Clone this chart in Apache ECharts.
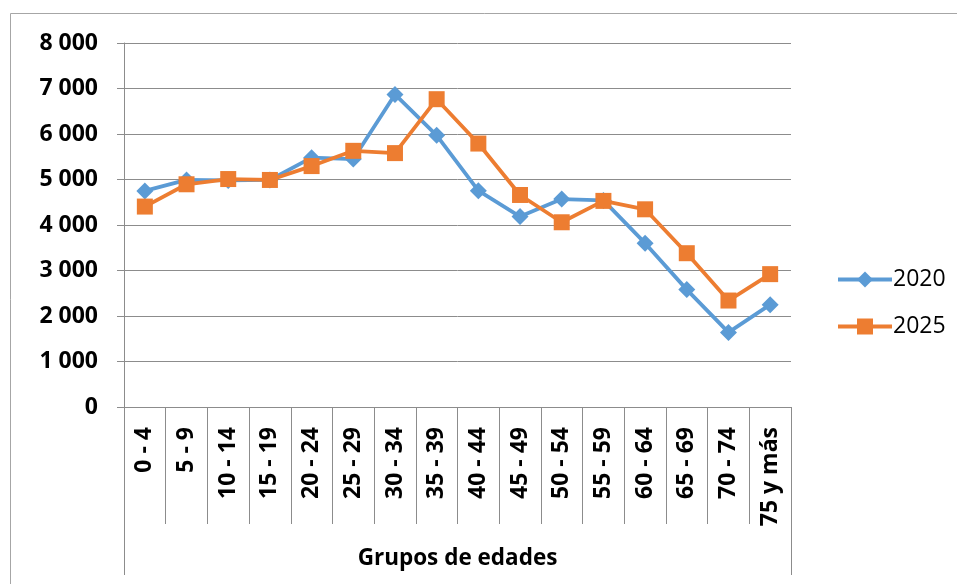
<!DOCTYPE html>
<html>
<head>
<meta charset="utf-8">
<script src="https://cdn.jsdelivr.net/npm/echarts@6/dist/echarts.min.js"></script>
<style>
  html, body { margin: 0; padding: 0; background: #fff; }
  #chart { width: 957px; height: 584px; }
</style>
</head>
<body>
<div id="chart"></div>
<script>
const grupos = ['0 - 4', '5 - 9', '10 - 14', '15 - 19', '20 - 24', '25 - 29', '30 - 34', '35 - 39',
  '40 - 44', '45 - 49', '50 - 54', '55 - 59', '60 - 64', '65 - 69', '70 - 74', '75 y más']
const datos2020 = [4750, 4990, 4980, 4990, 5480, 5450, 6870, 5970, 4755, 4185, 4570, 4540, 3600, 2580, 1640, 2250]
const datos2025 = [4405, 4895, 5010, 4990, 5295, 5630, 5580, 6765, 5790, 4660, 4060, 4530, 4345, 3380, 2340, 2920]
const tituloEje = ['Grupos de edades']

const fuente = '"Open Sans", "Noto Sans", sans-serif'
const gris = '#8c8c8c'

const chart = echarts.init(document.getElementById('chart'))
chart.setOption({
  animation: false,
  graphic: [{
    type: 'rect',
    shape: {x: 10.5, y: 13.5, width: 1000, height: 1000},
    style: {fill: 'none', stroke: '#a6a6a6', lineWidth: 1}
  }],
  grid: {left: 124, right: 166, top: 43, bottom: 177},
  legend: {
    orient: 'vertical',
    left: 831,
    top: 263,
    itemWidth: 54,
    itemHeight: 20,
    itemGap: 24,
    lineStyle: {width: 4},
    textStyle: {fontFamily: fuente, fontSize: 23, color: '#000', padding: [0, 0, 0, -4]},
    data: ['2020', '2025']
  },
  xAxis: [{
    type: 'category',
    data: grupos,
    boundaryGap: true,
    axisLine: {show: true, lineStyle: {color: gris, width: 1}},
    axisTick: {show: true, length: 117, lineStyle: {color: gris}},
    axisLabel: {
      rotate: 90,
      margin: 20,
      interval: 0,
      fontFamily: fuente,
      fontWeight: 'bold',
      fontSize: 23,
      color: '#000'
    }
  }, {
    type: 'category',
    data: tituloEje,
    position: 'bottom',
    offset: 117,
    boundaryGap: true,
    axisLine: {show: false},
    axisTick: {show: true, length: 51, lineStyle: {color: gris}},
    axisLabel: {
      margin: 23,
      fontFamily: fuente,
      fontWeight: 'bold',
      fontSize: 22.5,
      color: '#000'
    }
  }],
  yAxis: {
    type: 'value',
    min: 0,
    max: 8000,
    interval: 1000,
    axisLine: {show: true, lineStyle: {color: gris}},
    axisTick: {show: true, length: 7, lineStyle: {color: gris}},
    splitLine: {lineStyle: {color: gris}},
    axisLabel: {
      margin: 26,
      fontFamily: fuente,
      fontWeight: 'bold',
      fontSize: 23,
      color: '#000',
      formatter: v => String(v).replace(/\B(?=(\d{3})+(?!\d))/g, ' ')
    }
  },
  series: [{
    name: '2020',
    type: 'line',
    data: datos2020,
    symbol: 'diamond',
    symbolSize: 17,
    color: '#5b9bd5',
    lineStyle: {width: 3.8},
    z: 3
  }, {
    name: '2025',
    type: 'line',
    data: datos2025,
    symbol: 'rect',
    symbolSize: 16,
    color: '#ed7d31',
    lineStyle: {width: 3.8},
    z: 4
  }]
})
</script>
</body>
</html>
